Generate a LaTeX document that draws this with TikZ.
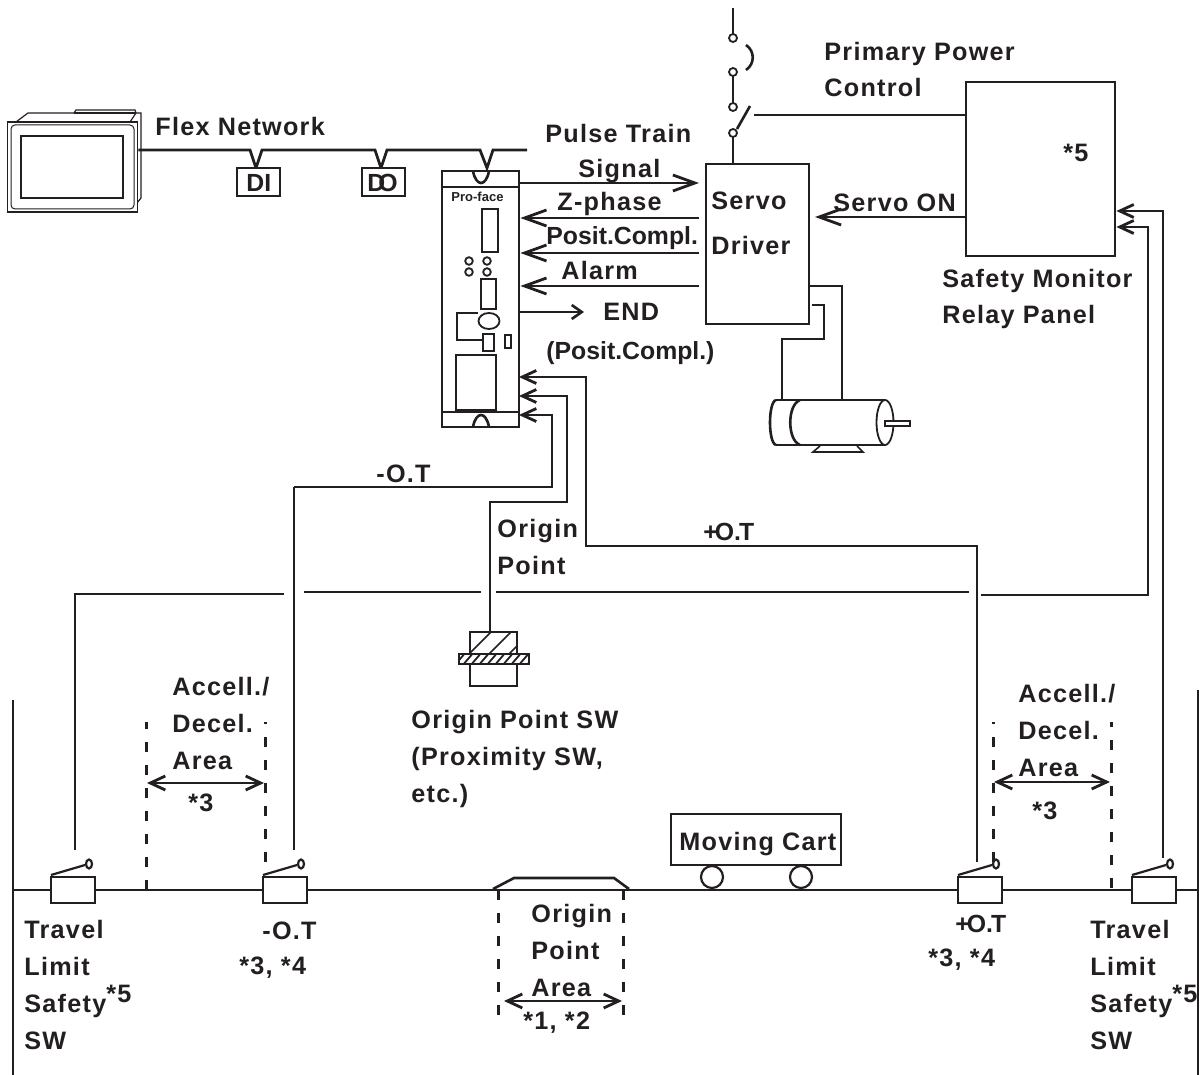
\documentclass[tikz,border=0pt]{standalone}
\usepackage{fontspec}
\setmainfont{Liberation Sans}
\newfontfamily\widefont{Liberation Sans}[LetterSpace=5.0]
\usepackage{tikz}
\usetikzlibrary{arrows.meta}
\definecolor{ink}{HTML}{231F20}

\begin{document}
\begin{tikzpicture}
  [x=0.5pt, y=-0.5pt,
    wire/.style={draw=ink, line width=1.4pt},
    thin wire/.style={draw=ink, line width=1.3pt},
    box/.style={rectangle, draw=ink, line width=1.4pt, fill=white, inner sep=0pt},
    txt/.style={text=ink, inner sep=0pt, anchor=base west, align=left, font=\widefont\bfseries\fontsize{12.6}{18.4}\selectfont},
    tight/.style={txt, font=\bfseries\fontsize{12.4}{18.4}\selectfont},
    barb/.style={wire, -{Straight Barb[length=11pt, width=8pt, line width=1.4pt]}},
    smallbarb/.style={wire, -{Straight Barb[length=7pt, width=6.5pt, line width=1.4pt]}},
    endbarb/.style={thin wire, -{Straight Barb[length=5pt, width=7pt, line width=1.3pt]}},
    span/.style={wire, {Straight Barb[length=7.5pt, width=7pt, line width=1.4pt]}-{Straight Barb[length=7.5pt, width=7pt, line width=1.4pt]}},
    limit/.style={draw=ink, line width=1.5pt, dash pattern=on 5pt off 6.5pt}
  ]
  \useasboundingbox (0,0) rectangle (1200,1075);

  % display
  \draw[thin wire, line width=0.6pt] (16,122) -- (28,113) -- (74,113) -- (76,110) -- (135,110) -- (136,113) -- (141,113) -- (141,198) -- (137,203);
  \draw[thin wire, line width=0.6pt] (130,122) -- (136,113);
  \draw[thin wire, line width=0.6pt] (74,113) -- (136,113);
  \node[box, line width=0.8pt, minimum width=65pt, minimum height=45pt] (panel) at (72.5,167) {};
  \draw[draw=ink, line width=0.5pt, rounded corners=2pt] (11,125) rectangle (134,209);
  \node[box, line width=0.7pt, minimum width=51pt, minimum height=31pt] (screen) at (72,167) {};

  % network
  \coordinate (bus) at (527,150);
  \draw[wire] (panel.east |- bus) -- (250,150) -- (256,168) -- (262,150) -- (375,150) -- (381,168) -- (387,150)
              -- (480,150) -- (487,168) -- (493,150) -- (bus);
  \node[box, minimum width=21.5pt, minimum height=14pt] (di) at (258.5,182) {};
  \node[box, minimum width=21.5pt, minimum height=14pt] (do) at (383.5,182) {};
  \node[tight] (ditext) at (246,192) {DI};
  \node[tight] (dotext) at (367,192) {D\kern-3.5pt O};

  % module
  \node[box, minimum width=38.5pt, minimum height=128pt] (module) at (480.5,299) {};
  \draw[thin wire] (module.north west |- 0,187) -- (module.north east |- 0,187);
  \draw[thin wire] (module.south west |- 0,412) -- (module.south east |- 0,412);
  \draw[thin wire] (473,171) .. controls (476,187) and (486,187) .. (489,171);
  \draw[thin wire] (473,427) .. controls (476,411) and (486,411) .. (489,427);
  \node[text=ink, inner sep=0pt, font=\bfseries\fontsize{6.5}{8}\selectfont] (brand) at (477.5,197) {Pro-face};
  \node[box, line width=1pt, minimum width=8pt, minimum height=21.5pt] (slot) at (490,230.5) {};
  \node[box, line width=1pt, minimum width=7.5pt, minimum height=15pt] (port) at (488.5,294) {};
  \node[box, line width=1pt, minimum width=5.5pt, minimum height=8.5pt] (plug) at (488.5,342.5) {};
  \node[box, line width=1pt, minimum width=3pt, minimum height=6.5pt] (tab) at (508,341.5) {};
  \node[box, line width=1pt, minimum width=20pt, minimum height=27.5pt] (bay) at (476,382.5) {};
  \foreach \x in {469,487} {
    \foreach \y in {261,272} {
      \draw[thin wire, line width=0.9pt] (\x,\y) circle [radius=3.8];
    }
  }
  \draw[thin wire, line width=0.9pt] (478,313) -- (457,313) -- (457,340) -- (483,340);
  \draw[thin wire, line width=0.9pt, fill=white] (489,321) ellipse [x radius=10.5, y radius=8];

  % servo driver
  \node[box, minimum width=51.5pt, minimum height=80pt] (servo) at (757.5,244) {};
  \node[txt] (servoa) at (711,210) {Servo};
  \node[txt] (servob) at (711,255) {Driver};

  % signals
  \coordinate (sig) at (699,183);
  \coordinate (zph) at (699,218);
  \coordinate (pos) at (699,253);
  \coordinate (alm) at (699,286);
  \coordinate (fin) at (584,312);
  \draw[barb] (module.east |- sig) -- (sig);
  \draw[barb] (zph) -- (zph -| module.east);
  \draw[barb] (pos) -- (pos -| module.east);
  \draw[barb] (alm) -- (alm -| module.east);
  \draw[endbarb] (module.east |- fin) -- (fin);
  \path (545,143) node[txt] (pulse) {Pulse Train}
        (578,178) node[txt] (signal) {Signal}
        (557,211) node[txt] (zphase) {Z-phase}
        (546,245) node[tight] (compl) {Posit.Compl.}
        (561,280) node[txt] (alarm) {Alarm}
        (603,321) node[txt] (endtext) {END}
        (546,359) node[tight] (endcompl) {(Posit.Compl.)};

  % mains
  \coordinate (feed) at (733,8);
  \draw[thin wire] (feed) -- (733,35);
  \draw[thin wire] (733,76) -- (733,103);
  \draw[thin wire] (733,137) -- (servo.north -| 733,0);
  \draw[thin wire, line width=0.9pt] (733,38) circle [radius=4];
  \draw[thin wire, line width=0.9pt] (733,72) circle [radius=4];
  \draw[thin wire, line width=0.9pt] (733,107) circle [radius=4];
  \draw[thin wire, line width=0.9pt] (733,133) circle [radius=4];
  \draw[thin wire] (737,129) -- (750,106);
  \draw[thin wire] (746,45) .. controls (755,51) and (755,64) .. (746,70);

  % safety panel
  \node[box, minimum width=74.5pt, minimum height=87pt] (relay) at (1040.5,169) {};
  \node[txt] (starfive) at (1063,162) {*5};
  \coordinate (ctrl) at (754,115);
  \draw[thin wire] (ctrl) -- (ctrl -| relay.west);
  \node[txt] (primary) at (824,97) {Primary Power\\Control};
  \coordinate (son) at (815,217);
  \draw[barb] (son -| relay.west) -- (son);
  \node[txt] (servoon) at (833,212) {Servo ON};
  \node[txt] (safety) at (942,324) {Safety Monitor\\Relay Panel};

  % motor
  \coordinate (mota) at (842,400);
  \coordinate (motb) at (782,400);
  \draw[thin wire] (servo.east |- 0,286) -- (842,286) -- (mota);
  \draw[thin wire] (812,305) -- (824,305) -- (824,339) -- (782,339) -- (motb);
  \draw[thin wire] (776,400) -- (885,400) (776,445) -- (885,445);
  \draw[thin wire] (776,400) .. controls (768,402) and (768,443) .. (776,445);
  \draw[thin wire] (800,400) .. controls (787,405) and (787,440) .. (800,445);
  \draw[thin wire, line width=0.9pt] (885,422.5) ellipse [x radius=8.5, y radius=22.5];
  \node[box, line width=0.9pt, minimum width=12.5pt, minimum height=2.5pt] (shaft) at (897.5,423.5) {};
  \draw[thin wire, line width=0.8pt] (820,446) -- (813,452) -- (863,452) -- (857,446);

  % inputs
  \coordinate (ina) at (519,377);
  \coordinate (inb) at (519,396);
  \coordinate (inc) at (519,415);
  \coordinate (endnot) at (294,850);
  \coordinate (endorg) at (490,632);
  \coordinate (endpos) at (977,862);
  \coordinate (endlsa) at (75,850);
  \coordinate (endlsb) at (1163,858);
  \draw[smallbarb] (294,487) -- (552,487) -- (552,415) -- (inc);
  \draw[wire] (294,487) -- (endnot);
  \draw[smallbarb] (endorg) -- (490,502) -- (567,502) -- (567,396) -- (inb);
  \draw[smallbarb] (endpos) -- (977,546) -- (586,546) -- (586,377) -- (ina);
  \path (376,482) node[txt] (minusot) {-O.T}
        (497,574) node[txt] (origina) {Origin\\Point}
        (703,540) node[tight] (plusot) {+\kern-1.5pt O.\kern-1pt T};

  % safety loop
  \draw[wire] (endlsa) -- (75,594) -- (284,594);
  \draw[wire] (304,592) -- (481,592);
  \draw[wire] (496,592) -- (969,592);
  \draw[smallbarb] (981,595) -- (1148,595) -- (1148,227) -- (relay.east |- 0,227);
  \draw[smallbarb] (endlsb) -- (1163,211) -- (relay.east |- 0,211);

  % origin sensor
  \node[box, minimum width=23.5pt, minimum height=27pt] (sensor) at (493.5,659) {};
  \begin{scope}
    \clip (470,632) rectangle (517,654);
    \foreach \x in {470,490,510,530} {
      \draw[thin wire, line width=0.8pt] (\x-25,658) -- (\x+5,628);
    }
  \end{scope}
  \node[box, line width=1.1pt, minimum width=35pt, minimum height=5pt] (flange) at (494,659) {};
  \begin{scope}
    \clip (459,654) rectangle (529,664);
    \foreach \x in {462,470,...,534} {
      \draw[ink, line width=0.9pt] (\x-8,666) -- (\x+4,652);
    }
  \end{scope}
  \node[txt] (proxi) at (411,802) {Origin Point SW\\(Proximity SW,\\etc.)};

  % rail
  \coordinate (railw) at (13,890);
  \coordinate (raile) at (1198,890);
  \draw[wire] (railw) -- (raile);
  \draw[wire] (13,700) -- (13,1075);
  \draw[wire] (1198,690) -- (1198,1075);

  % switches
  \foreach \x/\n in {51/lsa, 263/otm, 958/otp, 1132/lsb} {
    \node[box, line width=1.3pt, minimum width=22pt, minimum height=13pt] (\n) at (\x+22,890) {};
    \draw[thin wire, line width=1.1pt] (\x,875) -- (\x+34,865);
    \draw[thin wire, line width=1.1pt, fill=white] (\x+38,864) ellipse [x radius=3, y radius=4.5];
  }

  % areas
  \draw[limit] (146,890) -- (146,722);
  \draw[limit] (265,862) -- (265,722);
  \draw[limit] (993,862) -- (993,722);
  \draw[limit] (1111,888) -- (1111,722);
  \draw[limit] (498,890) -- (498,1025);
  \draw[limit] (623,890) -- (623,1025);
  \draw[span] (147,783) -- (264,783);
  \draw[span] (994,782) -- (1110,782);
  \draw[span] (504,1001) -- (622,1001);
  \draw[thin wire] (493,889) -- (514,878) -- (614,878) -- (629,889);

  % cart
  \node[box, line width=1.3pt, minimum width=85pt, minimum height=25.5pt] (cart) at (756,839.5) {};
  \node[txt] (carttext) at (679,850) {Moving Cart};
  \draw[thin wire, line width=1.1pt] (712,877) circle [radius=11];
  \draw[thin wire, line width=1.1pt] (801,877) circle [radius=11];

  % labels
  \path (155,136) node[txt] (flex) {Flex Network}
        (172,769) node[txt] (accl) {Accell./\\Decel.\\Area}
        (188,811) node[txt] (stara) {*3}
        (1018,776) node[txt] (accr) {Accell./\\Decel.\\Area}
        (1032,819) node[txt] (starb) {*3}
        (531,996) node[txt] (area) {Origin\\Point\\Area}
        (523,1029) node[txt] (starc) {*1, *2}
        (24,1049) node[txt] (trava) {Travel\\Limit\\Safety\raisebox{5pt}{*5}\\SW}
        (262,939) node[txt] (minusb) {-O.T}
        (239,974) node[txt] (stard) {*3, *4}
        (955,932) node[tight] (plusb) {+\kern-1.5pt O.\kern-1pt T}
        (928,966) node[txt] (stare) {*3, *4}
        (1090,1049) node[txt] (travb) {Travel\\Limit\\Safety\raisebox{5pt}{*5}\\SW};
\end{tikzpicture}
\end{document}
